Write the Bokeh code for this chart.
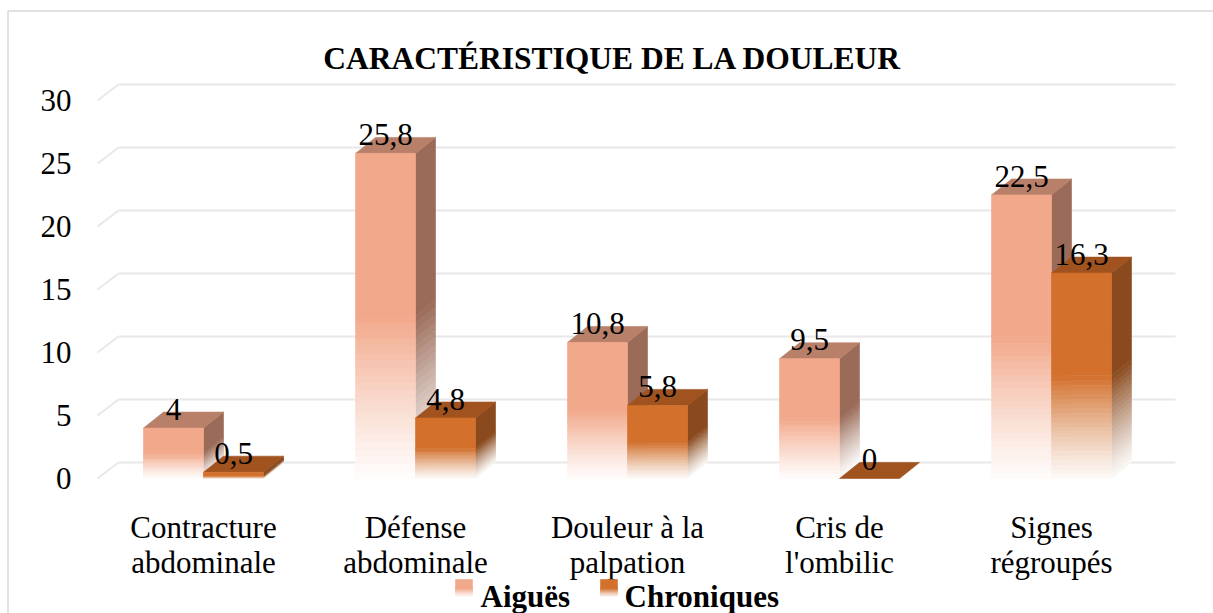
from bokeh.plotting import figure
from bokeh.models import Range1d, ColumnDataSource
from bokeh.core.properties import value
from bokeh.embed import file_html
from bokeh.resources import INLINE

# ---------------- data ----------------
title = "CARACTÉRISTIQUE DE LA DOULEUR"
categories = ["Contracture\nabdominale", "Défense\nabdominale", "Douleur à la\npalpation",
              "Cris de\nl'ombilic", "Signes\nrégroupés"]
aigues = [4, 25.8, 10.8, 9.5, 22.5]
chroniques = [0.5, 4.8, 5.8, 0, 16.3]
series_names = ["Aiguës", "Chroniques"]
y_ticks = [0, 5, 10, 15, 20, 25, 30]

# ---------------- styling / layout ----------------
FONT = value("Liberation Serif")
FS = "31px"
front_cols = ["#F2A88A", "#D2702C"]
top_cols = ["#B98069", "#A0531F"]
side_cols = ["#9A6B58", "#8A4A1E"]
GRID_COL = "#E8E8E8"

W, H = 1213, 613
OX, OY = 0, 0     # reference pixel of the figure's top-left corner
X0_PX = 97.0      # reference x of category axis start
PX_CAT = 212.0    # pixels per category
Y0_PX = 478.0     # reference y of value 0 (front plane)
PX_UNIT = 12.6    # pixels per value unit


def X(px):
    return (px - X0_PX) / PX_CAT


def Y(py):
    return (Y0_PX - py) / PX_UNIT


BW = 60 / PX_CAT          # bar width
DDX = 20 / PX_CAT         # depth offset x
DDY = 16 / PX_UNIT        # depth offset y
GDX = 21 / PX_CAT
GEND = X(1175)

p = figure(width=W, height=H, x_range=Range1d(X(OX), X(OX + W)), y_range=Range1d(Y(OY + H), Y(OY)),
           output_backend="svg", toolbar_location=None, min_border=0,
           x_axis_location=None, y_axis_location=None)
p.grid.visible = False
p.outline_line_color = None
p.background_fill_color = "white"
p.border_fill_color = "white"

# chart-area border (left/top visible, as in the reference)
p.quad(left=[X(7.5)], right=[X(1230)], top=[Y(10.5)], bottom=[Y(640)],
       fill_color=None, line_color="#D9D9D9", line_width=1.5)


def hex2rgb(h):
    h = h.lstrip("#")
    return [int(h[i:i + 2], 16) for i in (0, 2, 4)]


def mix(col, k):
    r = hex2rgb(col)
    return "#%02x%02x%02x" % tuple(int(round(255 + (c - 255) * k)) for c in r)


NS = 22
FADE = 0.5


def shade_at(col, t):
    # t: fraction of height from bottom (0..FADE)
    return mix(col, 0.04 + 0.96 * (t / FADE) ** 1.2)


# ---------------- gridlines ----------------
gx0, gy0, gx1, gy1 = [], [], [], []
for v in y_ticks:
    gx0 += [0, GDX]
    gy0 += [v, v + DDY]
    gx1 += [GDX, GEND]
    gy1 += [v + DDY, v + DDY]
p.segment(x0=gx0, y0=gy0, x1=gx1, y1=gy1, line_color=GRID_COL, line_width=2)

# ---------------- 3D bars ----------------
qd = dict(left=[], right=[], bottom=[], top=[], color=[])
pd_ = dict(xs=[], ys=[], color=[])


def add_front(x0, x1, y0, y1, col):
    h = y1 - y0
    if h <= 0:
        return
    yf = y0 + h * FADE
    qd["left"].append(x0); qd["right"].append(x1)
    qd["bottom"].append(yf); qd["top"].append(y1); qd["color"].append(col)
    for k in range(NS):
        b = y0 + h * FADE * k / NS
        t = y0 + h * FADE * (k + 1) / NS
        qd["left"].append(x0); qd["right"].append(x1)
        qd["bottom"].append(b); qd["top"].append(t)
        qd["color"].append(shade_at(col, FADE * (k + 0.5) / NS))


def add_side(x1, v, col):
    if v <= 0:
        return

    def para(b, t, c):
        pd_["xs"].append([x1, x1, x1 + DDX, x1 + DDX])
        pd_["ys"].append([b, t, t + DDY, b + DDY])
        pd_["color"].append(c)
    para(v * FADE, v, col)
    for k in range(NS):
        b = v * FADE * k / NS
        t = v * FADE * (k + 1) / NS
        para(b, t, shade_at(col, FADE * (k + 0.5) / NS))


def add_top(x0, x1, v, col):
    pd_["xs"].append([x0, x1, x1 + DDX, x0 + DDX])
    pd_["ys"].append([v, v, v + DDY, v + DDY])
    pd_["color"].append(col)


def fmt(v):
    return ("%g" % v).replace(".", ",")


lab_x, lab_y, lab_t = [], [], []
allp = dict(xs=[], ys=[], color=[])
for i in range(len(categories)):
    c = i + 0.5
    for s, vals in enumerate([aigues, chroniques]):
        v = vals[i]
        x0 = c - BW if s == 0 else c
        x1 = x0 + BW
        pd_ = dict(xs=[], ys=[], color=[])
        qd = dict(left=[], right=[], bottom=[], top=[], color=[])
        add_side(x1, v, side_cols[s])
        add_top(x0, x1, v, top_cols[s])
        add_front(x0, x1, 0, v, front_cols[s])
        allp["xs"] += pd_["xs"]; allp["ys"] += pd_["ys"]; allp["color"] += pd_["color"]
        for k in range(len(qd["left"])):
            l, r, b, t = qd["left"][k], qd["right"][k], qd["bottom"][k], qd["top"][k]
            allp["xs"].append([l, r, r, l])
            allp["ys"].append([b, b, t, t])
            allp["color"].append(qd["color"][k])
        lab_x.append((x0 + x1) / 2)
        lab_y.append(v + DDY + 3 / PX_UNIT)
        lab_t.append(fmt(v))

p.patches(xs="xs", ys="ys", source=ColumnDataSource(allp), fill_color="color",
          line_color="color", line_width=0.6)

# ---------------- data labels ----------------
p.text(x=lab_x, y=lab_y, text=lab_t, text_font=FONT, text_font_size=FS,
       text_align="center", text_baseline="alphabetic", text_color="black")

# ---------------- y tick labels ----------------
p.text(x=[X(71)] * len(y_ticks), y=y_ticks, text=[str(t) for t in y_ticks], text_font=FONT,
       text_font_size=FS, text_align="right", text_baseline="middle", text_color="black")

# ---------------- category labels ----------------
l1 = [c.split("\n")[0] for c in categories]
l2 = [c.split("\n")[1] for c in categories]
cx = [i + 0.5 for i in range(len(categories))]
p.text(x=cx, y=[Y(527)] * len(cx), text=l1, text_font=FONT, text_font_size=FS,
       text_align="center", text_baseline="alphabetic", text_color="black")
p.text(x=cx, y=[Y(562)] * len(cx), text=l2, text_font=FONT, text_font_size=FS,
       text_align="center", text_baseline="alphabetic", text_color="black")

# ---------------- title ----------------
p.text(x=[X(612)], y=[Y(58)], text=[title], text_font=FONT, text_font_size="31.5px",
       text_font_style="bold", text_align="center", text_baseline="alphabetic", text_color="black")

# ---------------- legend ----------------
LEG_BASE = 596
leg = dict(xs=[], ys=[], color=[])
qd = dict(left=[], right=[], bottom=[], top=[], color=[])
for s, lx in enumerate([455, 600]):
    add_front(X(lx), X(lx + 17), Y(LEG_BASE), Y(LEG_BASE - 17), front_cols[s])
for k in range(len(qd["left"])):
    l, r, b, t = qd["left"][k], qd["right"][k], qd["bottom"][k], qd["top"][k]
    leg["xs"].append([l, r, r, l])
    leg["ys"].append([b, b, t, t])
    leg["color"].append(qd["color"][k])
p.patches(xs="xs", ys="ys", source=ColumnDataSource(leg), fill_color="color",
          line_color="color", line_width=0.6)
p.text(x=[X(480), X(624)], y=[Y(LEG_BASE), Y(LEG_BASE)], text=series_names, text_font=FONT,
       text_font_size=FS, text_font_style="bold", text_align="left",
       text_baseline="alphabetic", text_color="black")

open("out.html", "w").write(file_html(p, INLINE))
